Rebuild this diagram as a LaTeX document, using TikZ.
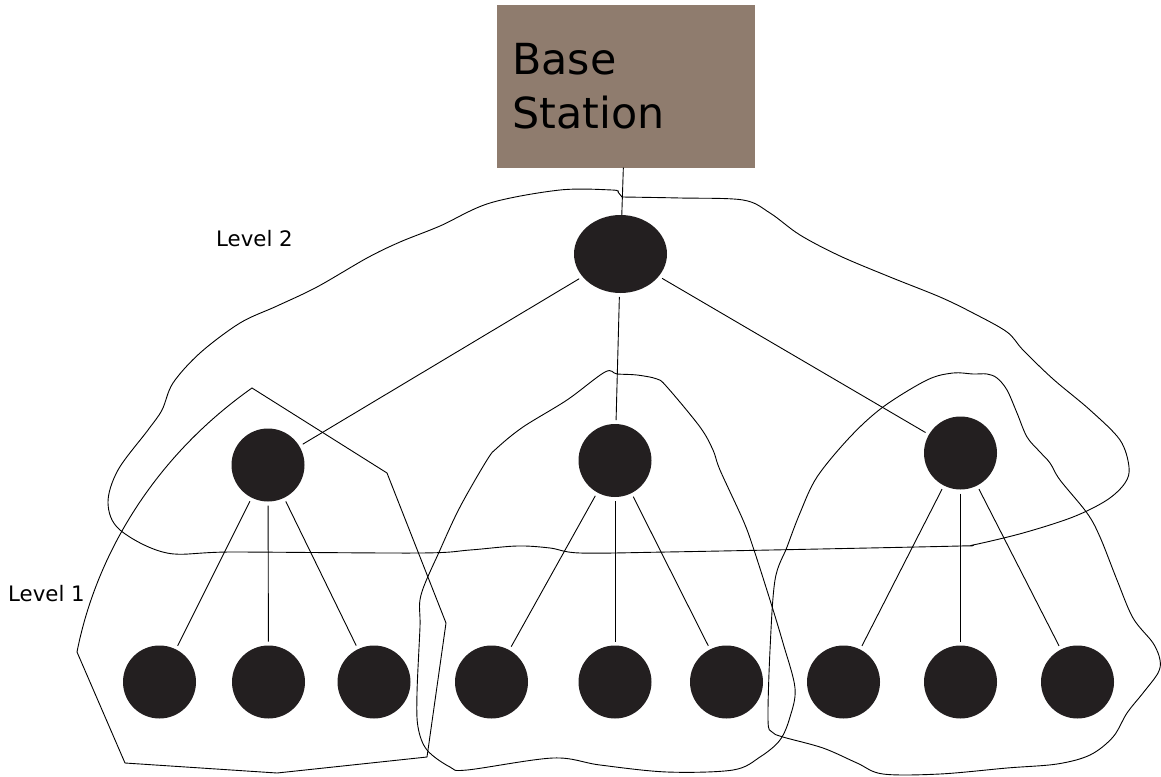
\documentclass[tikz,border=0pt]{standalone}
\usepackage{fontspec}
\setmainfont{DejaVu Sans}
\usetikzlibrary{shapes.geometric}
\definecolor{bsfill}{RGB}{143,124,110}
\definecolor{dotcol}{RGB}{35,31,32}
\begin{document}
\begin{tikzpicture}[x=1pt,y=-1pt,
  dotnode/.style={circle,fill=dotcol,draw=none,minimum size=73pt,inner sep=0pt,outer sep=4pt},
  topnode/.style={ellipse,fill=dotcol,draw=none,minimum width=93pt,minimum height=78pt,inner sep=0pt,outer sep=4pt},
  link/.style={draw=black,line width=0.9pt},
  outline/.style={draw=black,line width=0.9pt},
  lvl/.style={font=\fontsize{21.3}{25}\selectfont,anchor=base west,inner sep=0pt},
  bsbox/.style={fill=bsfill,draw=none,minimum width=258pt,minimum height=162pt,inner sep=0pt}]
\useasboundingbox (0,0) rectangle (1161,776);

% outlines
\draw[outline] plot[smooth,tension=0.55] coordinates {
 (622,197) (680,198) (743,200) (770,213) (800,235) (840,256) (890,277) (940,297)
 (973,313) (1007,332) (1023,350) (1053,379) (1090,410) (1120,440) (1129,467)
 (1125,483) (1107,500) (1073,517) (1023,533) (973,545) (960,546) (820,549)
 (667,552) (580,553) (550,548) (517,546) (470,550) (420,553) (233,552) (167,553)
 (120,530) (108,503) (118,470) (148,430) (162,410) (173,383) (200,353) (240,323)
 (277,306) (317,287) (367,258) (400,242) (440,226) (490,203) (560,190) (612,190) (618,192)} -- cycle;

\draw[outline] (252,388) -- (387,473) -- (446,623) -- (427,757) -- (277,773)
  -- (125,763) -- (77,652) .. controls (95,560) and (150,460) .. cycle;

\draw[outline] plot[smooth cycle,tension=0.55] coordinates {
 (605,372) (617,374) (637,375) (657,379) (667,387) (700,427) (713,450) (720,470)
 (743,520) (753,547) (770,600) (783,643) (795,688) (790,717) (780,740) (760,757)
 (733,770) (667,772) (600,765) (553,758) (467,770) (450,767) (427,750) (418,727)
 (417,693) (420,627) (421,595) (440,550) (460,507) (487,460) (497,448) (523,427)
 (567,400)};

\draw[outline] plot[smooth cycle,tension=0.55] coordinates {
 (953,373) (973,374) (987,374) (997,378) (1007,390) (1017,413) (1027,437) (1040,452)
 (1050,463) (1060,480) (1087,513) (1100,537) (1117,580) (1133,618) (1153,643)
 (1160,660) (1158,673) (1143,693) (1127,713) (1113,737) (1090,755) (1057,764)
 (1007,768) (940,774) (883,774) (857,763) (823,748) (783,737) (772,732) (768,720)
 (770,650) (775,580) (787,547) (800,513) (817,477) (850,437) (883,407) (927,380)};

% base station
\node[bsbox] (bs) at (626,86.5) {};
\node[align=left,anchor=north west,inner sep=0pt,font=\fontsize{42.8}{54}\selectfont]
  (bstext) at (512,43) {Base\\Station};

% nodes
\node[topnode] (top) at (620.5,254) {};
\node[dotnode] (m1) at (268,465) {};
\node[dotnode] (m2) at (615,460.5) {};
\node[dotnode] (m3) at (960.5,453) {};
\node[dotnode] (c1) at (159.5,682) {};
\node[dotnode] (c2) at (268.5,682) {};
\node[dotnode] (c3) at (374,682) {};
\node[dotnode] (c4) at (491.5,682) {};
\node[dotnode] (c5) at (615,682) {};
\node[dotnode] (c6) at (726.5,682) {};
\node[dotnode] (c7) at (843.5,682) {};
\node[dotnode] (c8) at (960.5,682) {};
\node[dotnode] (c9) at (1077.5,682) {};

% connectors
\draw[link,shorten >=-4pt] (bs) -- (top);
\draw[link] (top) -- (m1);
\draw[link] (top) -- (m2);
\draw[link] (top) -- (m3);
\draw[link] (m1) -- (c1);
\draw[link] (m1) -- (c2);
\draw[link] (m1) -- (c3);
\draw[link] (m2) -- (c4);
\draw[link] (m2) -- (c5);
\draw[link] (m2) -- (c6);
\draw[link] (m3) -- (c7);
\draw[link] (m3) -- (c8);
\draw[link] (m3) -- (c9);

% labels
\node[lvl] (l2) at (216,246) {Level 2};
\node[lvl] (l1) at (8,601) {Level 1};
\end{tikzpicture}
\end{document}
